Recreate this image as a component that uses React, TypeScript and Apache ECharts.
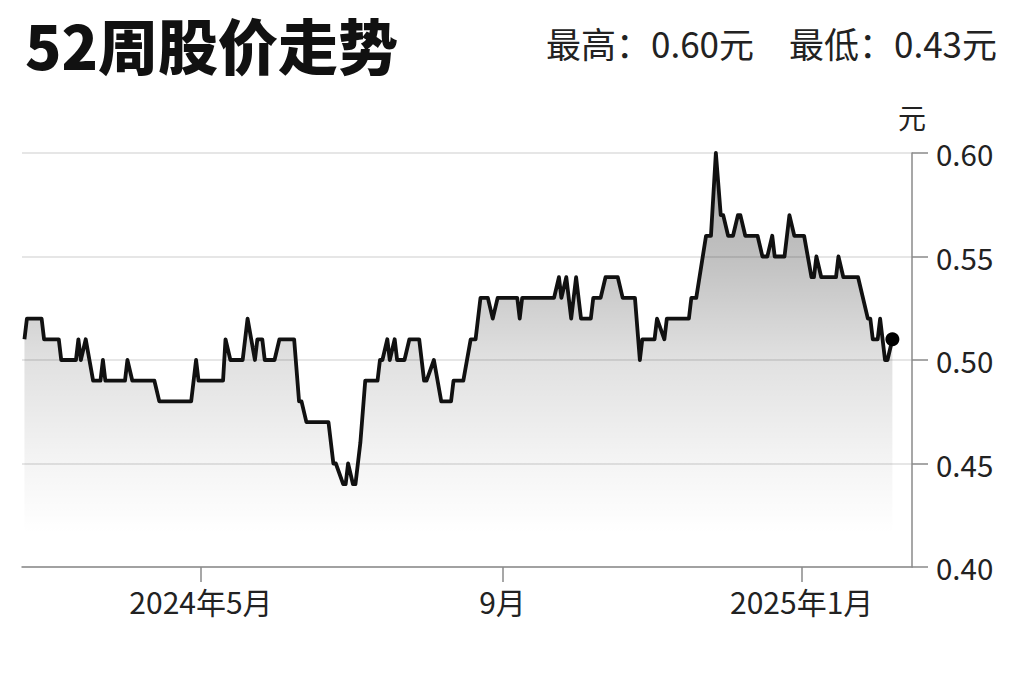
import React, { useEffect, useRef } from "react";
import * as echarts from "echarts";

const title = "52周股价走势";
const summary = "最高：0.60元　最低：0.43元";
const unit = "元";

const axisStart = "2024-02-18";
const axisEnd = "2025-02-15";
const tickDates = ["2024-05-01", "2024-09-01", "2025-01-01"];
const tickLabels = ["2024年5月", "9月", "2025年1月"];
const yTicks = [0.4, 0.45, 0.5, 0.55, 0.6];

const dates = [
  "2024-02-19", "2024-02-20", "2024-02-26", "2024-02-27", "2024-03-04", "2024-03-05",
  "2024-03-11", "2024-03-12", "2024-03-13", "2024-03-15", "2024-03-18", "2024-03-21",
  "2024-03-22", "2024-03-23", "2024-03-31", "2024-04-01", "2024-04-03", "2024-04-12",
  "2024-04-14", "2024-04-27", "2024-04-29", "2024-04-30", "2024-05-10", "2024-05-11",
  "2024-05-13", "2024-05-18", "2024-05-20", "2024-05-23", "2024-05-24", "2024-05-26",
  "2024-05-27", "2024-05-31", "2024-06-02", "2024-06-08", "2024-06-10", "2024-06-11",
  "2024-06-13", "2024-06-22", "2024-06-24", "2024-06-25", "2024-06-28", "2024-06-29",
  "2024-06-30", "2024-07-02", "2024-07-03", "2024-07-05", "2024-07-07", "2024-07-12",
  "2024-07-13", "2024-07-14", "2024-07-16", "2024-07-17", "2024-07-19", "2024-07-20",
  "2024-07-23", "2024-07-25", "2024-07-29", "2024-07-31", "2024-08-01", "2024-08-04",
  "2024-08-07", "2024-08-11", "2024-08-12", "2024-08-16", "2024-08-19", "2024-08-21",
  "2024-08-23", "2024-08-26", "2024-08-28", "2024-08-30", "2024-09-07", "2024-09-08",
  "2024-09-09", "2024-09-22", "2024-09-24", "2024-09-25", "2024-09-27", "2024-09-29",
  "2024-10-01", "2024-10-03", "2024-10-07", "2024-10-08", "2024-10-11", "2024-10-13",
  "2024-10-18", "2024-10-20", "2024-10-25", "2024-10-27", "2024-10-28", "2024-11-02",
  "2024-11-03", "2024-11-06", "2024-11-07", "2024-11-16", "2024-11-17", "2024-11-19",
  "2024-11-23", "2024-11-25", "2024-11-27", "2024-11-29", "2024-11-30", "2024-12-02",
  "2024-12-04", "2024-12-06", "2024-12-07", "2024-12-09", "2024-12-14", "2024-12-16",
  "2024-12-18", "2024-12-20", "2024-12-21", "2024-12-25", "2024-12-27", "2024-12-29",
  "2025-01-02", "2025-01-05", "2025-01-06", "2025-01-07", "2025-01-09", "2025-01-15",
  "2025-01-16", "2025-01-18", "2025-01-24", "2025-01-28", "2025-01-29", "2025-01-30",
  "2025-02-01", "2025-02-02", "2025-02-04", "2025-02-05", "2025-02-07",
];

const prices = [
  0.51, 0.52, 0.52, 0.51, 0.51, 0.50,
  0.50, 0.51, 0.50, 0.51, 0.49, 0.49,
  0.50, 0.49, 0.49, 0.50, 0.49, 0.49,
  0.48, 0.48, 0.50, 0.49, 0.49, 0.51,
  0.50, 0.50, 0.52, 0.50, 0.51, 0.51,
  0.50, 0.50, 0.51, 0.51, 0.48, 0.48,
  0.47, 0.47, 0.45, 0.45, 0.44, 0.44,
  0.45, 0.44, 0.44, 0.46, 0.49, 0.49,
  0.50, 0.50, 0.51, 0.50, 0.51, 0.50,
  0.50, 0.51, 0.51, 0.49, 0.49, 0.50,
  0.48, 0.48, 0.49, 0.49, 0.51, 0.51,
  0.53, 0.53, 0.52, 0.53, 0.53, 0.52,
  0.53, 0.53, 0.54, 0.53, 0.54, 0.52,
  0.54, 0.52, 0.52, 0.53, 0.53, 0.54,
  0.54, 0.53, 0.53, 0.50, 0.51, 0.51,
  0.52, 0.51, 0.52, 0.52, 0.53, 0.53,
  0.56, 0.56, 0.60, 0.57, 0.57, 0.56,
  0.56, 0.57, 0.57, 0.56, 0.56, 0.55,
  0.55, 0.56, 0.55, 0.55, 0.57, 0.56,
  0.56, 0.54, 0.54, 0.55, 0.54, 0.54,
  0.55, 0.54, 0.54, 0.52, 0.52, 0.51,
  0.51, 0.52, 0.50, 0.50, 0.51,
];

const FONT = "'Noto Sans CJK SC', 'Noto Sans', sans-serif";

const toTime = (d: string) => echarts.time.parse(d).getTime();

export default function App() {
  const ref = useRef<HTMLDivElement>(null);

  useEffect(() => {
    if (!ref.current) return;
    const chart = echarts.init(ref.current, undefined, { renderer: "svg" });
    const tickTimes = tickDates.map(toTime);
    const lineData = dates.map((d, i) => [toTime(d), prices[i]]);
    const last = lineData[lineData.length - 1];

    chart.setOption({
      animation: false,
      backgroundColor: "#ffffff",
      textStyle: { fontFamily: FONT },
      graphic: [
        {
          type: "text",
          left: 25,
          top: 13,
          style: {
            text: title,
            fontFamily: FONT,
            fontSize: 60,
            fontWeight: 900,
            fill: "#111",
          },
        },
        {
          type: "text",
          right: 27,
          top: 25,
          style: {
            text: summary,
            fontFamily: FONT,
            fontSize: 35,
            fill: "#222",
          },
        },
      ],
      grid: {
        left: 22,
        right: 112,
        top: 153,
        bottom: 115,
        containLabel: false,
        outerBoundsMode: "none",
      },
      xAxis: {
        type: "value",
        min: toTime(axisStart),
        max: toTime(axisEnd),
        axisLine: { show: true, onZero: false, lineStyle: { color: "#8a8a8a", width: 1.5 } },
        axisTick: {
          show: true,
          length: 15,
          customValues: tickTimes,
          lineStyle: { color: "#8a8a8a", width: 1.5 },
        },
        axisLabel: {
          customValues: tickTimes,
          margin: 19,
          fontSize: 30,
          color: "#222",
          fontFamily: FONT,
          formatter: (v: number) => {
            const idx = tickTimes.findIndex((t) => Math.abs(t - v) < 43200000);
            return idx >= 0 ? tickLabels[idx] : "";
          },
        },
        splitLine: { show: false },
      },
      yAxis: {
        type: "value",
        position: "right",
        min: yTicks[0],
        max: yTicks[yTicks.length - 1],
        interval: 0.05,
        name: unit,
        nameLocation: "end",
        nameGap: 22,
        nameTextStyle: { fontSize: 28, color: "#222", fontFamily: FONT, align: "center" },
        axisLine: { show: true, lineStyle: { color: "#8a8a8a", width: 1.5 } },
        axisTick: { show: true, length: 16, lineStyle: { color: "#8a8a8a", width: 1.5 } },
        axisLabel: {
          margin: 24,
          fontSize: 29.5,
          color: "#222",
          fontFamily: FONT,
          formatter: (v: number) => v.toFixed(2),
        },
        splitLine: { show: true, lineStyle: { color: "#dedede", width: 1.5 } },
      },
      series: [
        {
          type: "line",
          data: lineData,
          showSymbol: false,
          lineStyle: { color: "#111", width: 3.8, join: "round" },
          areaStyle: {
            origin: "start",
            color: new echarts.graphic.LinearGradient(0, 0, 0, 1, [
              { offset: 0, color: "rgba(0,0,0,0.47)" },
              { offset: 0.25, color: "rgba(0,0,0,0.35)" },
              { offset: 0.5, color: "rgba(0,0,0,0.17)" },
              { offset: 0.75, color: "rgba(0,0,0,0.06)" },
              { offset: 0.92, color: "rgba(0,0,0,0)" },
              { offset: 1, color: "rgba(0,0,0,0)" },
            ]),
          },
        },
        {
          type: "scatter",
          data: [last],
          symbol: "circle",
          symbolSize: 14,
          itemStyle: { color: "#000", opacity: 1 },
          z: 5,
        },
      ],
    });

    return () => chart.dispose();
  }, []);

  return (
    <div
      ref={ref}
      style={{ position: "absolute", left: 0, top: 0, width: 1024, height: 682, background: "#fff" }}
    />
  );
}
